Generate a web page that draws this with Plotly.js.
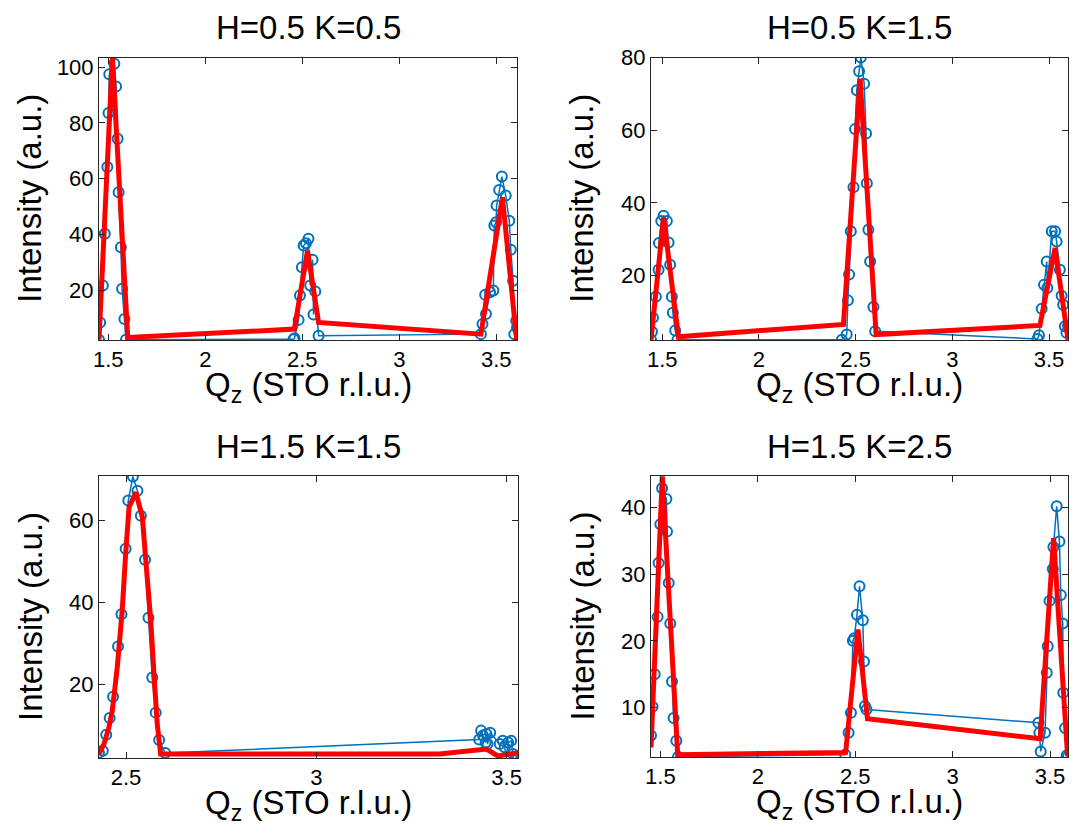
<!DOCTYPE html>
<html>
<head>
<meta charset="utf-8">
<script src="https://cdn.plot.ly/plotly-3.0.1.min.js"></script>
<style>
  html, body { margin: 0; padding: 0; background: #fff; }
  #chart { width: 1074px; height: 839px; }
</style>
</head>
<body>
<div id="chart"></div>
<script>
// Panel titles
const panelTitles = ["H=0.5 K=0.5", "H=0.5 K=1.5", "H=1.5 K=1.5", "H=1.5 K=2.5"];

// H=0.5 K=0.5 : measured (blue) and fitted (red)
const qz1 = [1.452, 1.458, 1.472, 1.482, 1.495, 1.501, 1.505, 1.531, 1.540, 1.548, 1.553, 1.565, 1.571, 1.583, 1.591,
             2.455, 2.460, 2.481, 2.488, 2.498, 2.507, 2.519, 2.532, 2.541, 2.553, 2.558, 2.567, 2.584,
             3.421, 3.429, 3.443, 3.447, 3.468, 3.485, 3.490, 3.499, 3.502, 3.515, 3.529, 3.549, 3.567, 3.575, 3.587, 3.593, 3.603, 3.607];
const int1 = [2.4, 8.6, 21.8, 40.3, 64.2, 83.5, 97.4, 101.2, 93.0, 74.3, 55.2, 35.5, 20.6, 9.8, 2.4,
              2.6, 2.9, 9.5, 18.2, 28.3, 36.1, 36.9, 38.5, 21.8, 31.0, 11.4, 19.7, 3.8,
              4.4, 8.0, 18.5, 11.6, 19.4, 20.0, 43.3, 44.4, 50.4, 56.0, 60.8, 54.0, 45.0, 34.6, 23.5, 4.4, 9.2, 6.8];
const fitQz1 = [1.452, 1.521, 1.600, 2.459, 2.527, 2.584, 3.421, 3.532, 3.605];
const fitInt1 = [2.4, 103.4, 3.2, 6.2, 34.3, 8.6, 4.4, 53.4, 2.3];

// H=0.5 K=1.5
const qz2 = [1.442, 1.447, 1.452, 1.467, 1.481, 1.483, 1.495, 1.507, 1.524, 1.533, 1.541, 1.550, 1.555, 1.567, 1.579,
             2.429, 2.454, 2.460, 2.466, 2.475, 2.489, 2.497, 2.506, 2.518, 2.527, 2.544, 2.554, 2.558, 2.566, 2.575, 2.592, 2.601,
             3.440, 3.448, 3.462, 3.474, 3.488, 3.491, 3.514, 3.531, 3.539, 3.556, 3.565, 3.573, 3.582, 3.590, 3.598];
const int2 = [2.4, 4.6, 8.4, 14.2, 21.6, 29.0, 35.0, 36.5, 35.0, 29.1, 23.0, 14.2, 9.8, 4.9, 2.4,
              2.4, 3.8, 13.2, 20.3, 32.2, 44.3, 60.3, 71.0, 76.2, 80.0, 72.8, 59.1, 45.4, 32.6, 23.9, 11.4, 4.7,
              2.6, 3.6, 10.9, 17.5, 23.9, 16.6, 32.2, 32.2, 29.4, 21.6, 14.5, 12.0, 6.1, 4.3, 6.3];
const fitQz2 = [1.442, 1.507, 1.584, 2.437, 2.523, 2.606, 3.453, 3.531, 3.598];
const fitInt2 = [2.4, 36.0, 3.2, 6.6, 74.2, 3.8, 6.3, 27.6, 2.4];

// H=1.5 K=1.5
const qz3 = [2.429, 2.439, 2.448, 2.457, 2.466, 2.479, 2.488, 2.499, 2.506, 2.518, 2.530, 2.539, 2.550, 2.559, 2.569, 2.578, 2.587, 2.603,
             3.428, 3.433, 3.438, 3.445, 3.447, 3.450, 3.457, 3.482, 3.490, 3.495, 3.499, 3.504, 3.512, 3.517, 3.530];
const int3 = [3.2, 3.7, 7.6, 11.7, 16.9, 29.2, 37.1, 53.1, 64.9, 70.8, 67.3, 61.2, 50.4, 36.2, 21.6, 13.0, 6.3, 3.1,
              6.4, 8.6, 7.4, 5.7, 7.8, 5.3, 8.1, 5.3, 6.1, 4.5, 2.0, 5.7, 6.1, 2.9, 2.0];
const fitQz3 = [2.429, 2.442, 2.455, 2.464, 2.477, 2.490, 2.499, 2.508, 2.526, 2.543, 2.552, 2.565, 2.574, 2.582, 2.591, 3.324, 3.447, 3.477, 3.530];
const fitInt3 = [2.9, 5.3, 9.4, 13.5, 24.1, 38.0, 51.8, 63.3, 66.9, 60.8, 50.2, 35.5, 21.6, 10.2, 2.9, 2.9, 4.1, 2.4, 3.2];

// H=1.5 K=2.5
const qz4 = [1.452, 1.460, 1.471, 1.486, 1.491, 1.500, 1.509, 1.531, 1.534, 1.543, 1.551, 1.560, 1.568, 1.582, 1.591,
             2.449, 2.466, 2.478, 2.488, 2.495, 2.509, 2.522, 2.539, 2.545, 2.550, 2.558,
             3.440, 3.445, 3.452, 3.474, 3.483, 3.488, 3.497, 3.514, 3.517, 3.534, 3.548, 3.555, 3.565, 3.568, 3.577, 3.585, 3.592];
const int4 = [5.8, 10.1, 15.0, 23.6, 31.7, 37.5, 42.9, 41.3, 36.4, 28.7, 22.6, 13.9, 8.4, 5.0, 2.6,
              2.9, 6.2, 9.2, 20.0, 20.4, 23.9, 28.2, 23.1, 16.9, 10.2, 9.7,
              7.7, 6.2, 3.4, 6.2, 15.2, 19.2, 26.0, 30.8, 34.1, 40.2, 34.9, 26.9, 22.6, 12.2, 6.9, 2.8, 2.6];
const fitQz4 = [1.452, 1.510, 1.589, 2.451, 2.514, 2.563, 3.449, 3.518, 3.590];
const fitInt4 = [4.0, 44.7, 2.9, 3.25, 21.7, 8.3, 5.3, 35.4, 2.65];

// Tick values per panel
const xTicksWide = [1.5, 2, 2.5, 3, 3.5];
const xTicksNarrow = [2.5, 3, 3.5];
const yTicks20 = [20, 40, 60, 80, 100];
const yTicks10 = [10, 20, 30, 40];

const W = 1074, H = 839;
const FONT = "Liberation Sans, Arial, Helvetica, sans-serif";
const AXIS_COLOR = "#262626";
const BLUE = "#0072BD";
const RED = "#FF0000";

// Plot-area boxes in pixels: [left, right, top, bottom]
const boxes = [
  [99, 517, 57.5, 340],
  [651, 1068, 57.5, 340],
  [99, 518, 476, 758],
  [651, 1068, 476, 757]
];

const panels = [
  {x: qz1, y: int1, fx: fitQz1, fy: fitInt1, xr: [1.452, 3.607], yr: [2.3, 103.4], xt: xTicksWide, yt: yTicks20},
  {x: qz2, y: int2, fx: fitQz2, fy: fitInt2, xr: [1.442, 3.598], yr: [2.3, 80.0], xt: xTicksWide, yt: yTicks20},
  {x: qz3, y: int3, fx: fitQz3, fy: fitInt3, xr: [2.429, 3.530], yr: [1.9, 70.9], xt: xTicksNarrow, yt: yTicks20},
  {x: qz4, y: int4, fx: fitQz4, fy: fitInt4, xr: [1.452, 3.592], yr: [2.56, 44.75], xt: xTicksWide, yt: yTicks10}
];

const traces = [];
const layout = {
  width: W, height: H,
  margin: {l: 0, r: 0, t: 0, b: 0},
  paper_bgcolor: "#fff",
  plot_bgcolor: "#fff",
  showlegend: false,
  font: {family: FONT, color: AXIS_COLOR},
  annotations: []
};

panels.forEach((p, i) => {
  const n = i + 1;
  const xa = "x" + (n === 1 ? "" : n);
  const ya = "y" + (n === 1 ? "" : n);
  const [l, r, t, b] = boxes[i];

  traces.push({
    x: p.x, y: p.y, xaxis: xa, yaxis: ya,
    type: "scatter", mode: "lines+markers",
    line: {color: BLUE, width: 1.5},
    marker: {symbol: "circle-open", size: 10, color: BLUE, line: {width: 2, color: BLUE}},
    cliponaxis: true
  });
  traces.push({
    x: p.fx, y: p.fy, xaxis: xa, yaxis: ya,
    type: "scatter", mode: "lines",
    line: {color: RED, width: 5}
  });

  const axCommon = {
    showgrid: false, zeroline: false,
    showline: true, linecolor: AXIS_COLOR, linewidth: 1,
    mirror: "ticks", ticks: "inside", ticklen: 6, tickwidth: 1, tickcolor: AXIS_COLOR,
    tickfont: {family: FONT, size: 22, color: "#000"}
  };
  layout["xaxis" + (n === 1 ? "" : n)] = Object.assign({}, axCommon, {
    domain: [l / W, r / W], anchor: ya, range: p.xr,
    tickmode: "array", tickvals: p.xt, ticktext: p.xt.map(String)
  });
  layout["yaxis" + (n === 1 ? "" : n)] = Object.assign({}, axCommon, {
    domain: [1 - b / H, 1 - t / H], anchor: xa, range: p.yr,
    tickmode: "array", tickvals: p.yt, ticktext: p.yt.map(String)
  });

  // Panel title
  layout.annotations.push({
    text: panelTitles[i], xref: "paper", yref: "paper",
    x: (l + r) / 2 / W, y: 1 - (t - 30) / H, xanchor: "center", yanchor: "middle",
    showarrow: false, font: {family: FONT, size: 33, color: "#000"}
  });
  // x-axis label
  layout.annotations.push({
    text: "Q<sub>z</sub> (STO r.l.u.)", xref: "paper", yref: "paper",
    x: (l + r) / 2 / W, y: 1 - (b + 47) / H, xanchor: "center", yanchor: "middle",
    showarrow: false, font: {family: FONT, size: 33, color: "#000"}
  });
  // y-axis label
  layout.annotations.push({
    text: "Intensity (a.u.)", xref: "paper", yref: "paper",
    x: (l - 69) / W, y: 1 - (t + b) / 2 / H, xanchor: "center", yanchor: "middle",
    textangle: -90,
    showarrow: false, font: {family: FONT, size: 33, color: "#000"}
  });
});

Plotly.newPlot("chart", traces, layout, {staticPlot: true, displayModeBar: false});
</script>
</body>
</html>
